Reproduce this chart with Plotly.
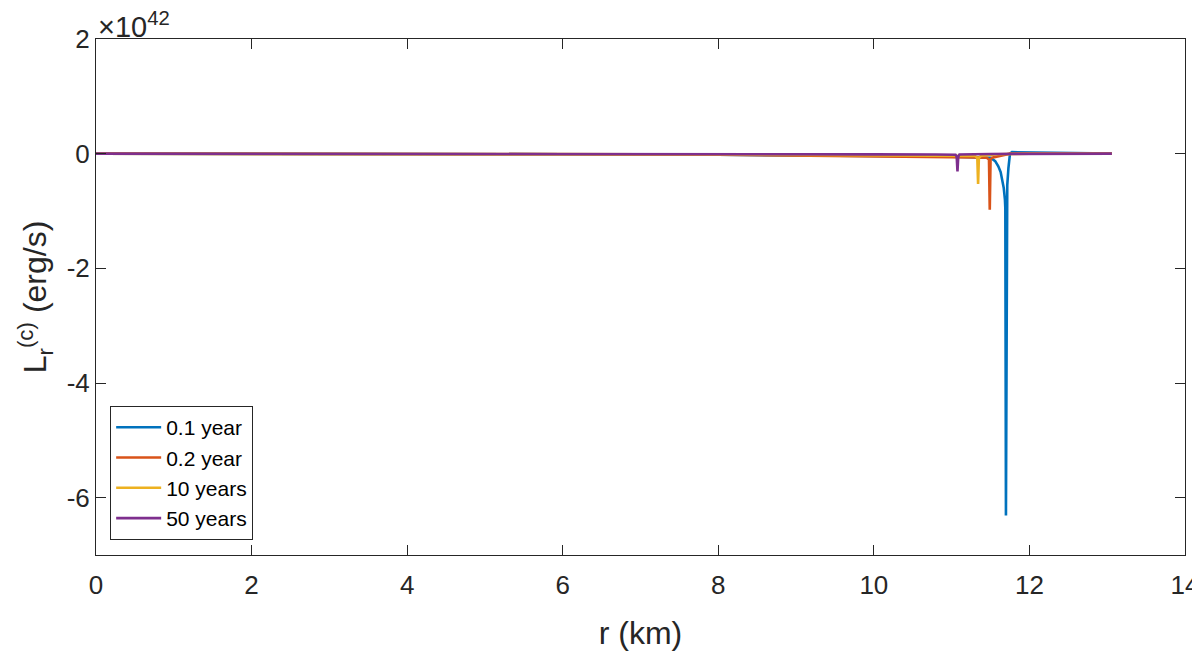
import plotly.graph_objects as go

# values in units of 1e42 erg/s
R_01 = [0, 2, 4, 6, 8, 9, 10, 10.5, 11, 11.3, 11.5, 11.56, 11.6, 11.63, 11.65, 11.67, 11.685,
        11.69, 11.698, 11.705, 11.715, 11.73, 11.75, 11.775, 11.82, 11.9, 12.2, 12.6, 13.06]
L_01 = [0, 0, -0.005, -0.01, -0.02, -0.025, -0.035, -0.045, -0.055, -0.06, -0.07, -0.13, -0.22,
        -0.32, -0.45, -0.6, -0.8, -0.95, -6.31, -0.9, -0.55, -0.25, 0.0, 0.026, 0.025, 0.02, 0.01, 0.005, 0]

R_02 = [0, 2, 4, 6, 8, 9, 10, 10.5, 11, 11.3, 11.45, 11.48, 11.49, 11.50, 11.52, 11.6, 11.75, 12, 13.06]
L_02 = [0, 0, -0.005, -0.01, -0.02, -0.03, -0.04, -0.05, -0.06, -0.065, -0.07, -0.1, -0.98, -0.1,
        -0.07, -0.05, 0.0, 0.005, 0]

R_10 = [0, 2, 4, 6, 8, 10, 11, 11.3, 11.33, 11.34, 11.35, 11.38, 11.6, 12, 13.06]
L_10 = [0, 0, -0.005, -0.008, -0.015, -0.025, -0.035, -0.04, -0.07, -0.53, -0.07, -0.035, -0.01, 0, 0]

R_50 = [0, 2, 4, 6, 8, 10, 10.8, 11.05, 11.065, 11.075, 11.085, 11.1, 11.5, 12, 13.06]
L_50 = [0, 0, -0.002, -0.004, -0.008, -0.012, -0.015, -0.02, -0.05, -0.31, -0.05, -0.015, -0.005, 0, 0]

SERIES = [
    ("0.1 year", R_01, L_01, "#0072BD"),
    ("0.2 year", R_02, L_02, "#D95319"),
    ("10 years", R_10, L_10, "#EDB120"),
    ("50 years", R_50, L_50, "#7E2F8E"),
]

X_TICKS = [0, 2, 4, 6, 8, 10, 12, 14]
Y_TICKS = [-6, -4, -2, 0, 2]

FONT = "Liberation Sans, Arial, Helvetica, sans-serif"
AX = "#262626"

fig = go.Figure()
for name, r, l, c in SERIES:
    fig.add_trace(go.Scatter(x=r, y=l, name=name, mode="lines", legendgroup=name,
                             line=dict(color=c, width=2.6)))

axis_common = dict(showgrid=False, zeroline=False, showline=True, linecolor=AX,
                   linewidth=1, mirror="ticks", ticks="inside", ticklen=10,
                   tickcolor=AX, tickfont=dict(size=26, color=AX, family=FONT),
                   automargin=False, ticklabeloverflow="allow")
fig.update_xaxes(range=[0, 14], tickvals=X_TICKS, ticklabelstandoff=7, **axis_common,
                 title=dict(text="r (km)", font=dict(size=32, color=AX, family=FONT), standoff=22))
fig.update_yaxes(range=[-7, 2], tickvals=Y_TICKS, ticktext=[str(v) for v in Y_TICKS],
                 **axis_common,
                 title=dict(text="L<sub>r</sub><sup>(c)</sup> (erg/s)",
                            font=dict(size=32, color=AX, family=FONT), standoff=10))

fig.add_annotation(x=0, y=1, xref="paper", yref="paper", xanchor="left", yanchor="bottom",
                   text="×10<sup>42</sup>", showarrow=False, yshift=-6, xshift=0,
                   font=dict(size=29, color=AX, family=FONT))

# the page body adds an 8px margin, so margins are shifted by 8px to land the axes in place
fig.update_layout(
    width=1200, height=652,
    paper_bgcolor="white", plot_bgcolor="white",
    margin=dict(l=88, r=23, t=31, b=105),
    font=dict(family=FONT, color=AX),
    legend=dict(x=0.013, y=0.029, xanchor="left", yanchor="bottom",
                bordercolor=AX, borderwidth=1, bgcolor="white",
                font=dict(size=21, color="black", family=FONT),
                itemwidth=45, tracegroupgap=0),
    showlegend=True,
)

fig.write_html("out.html")
